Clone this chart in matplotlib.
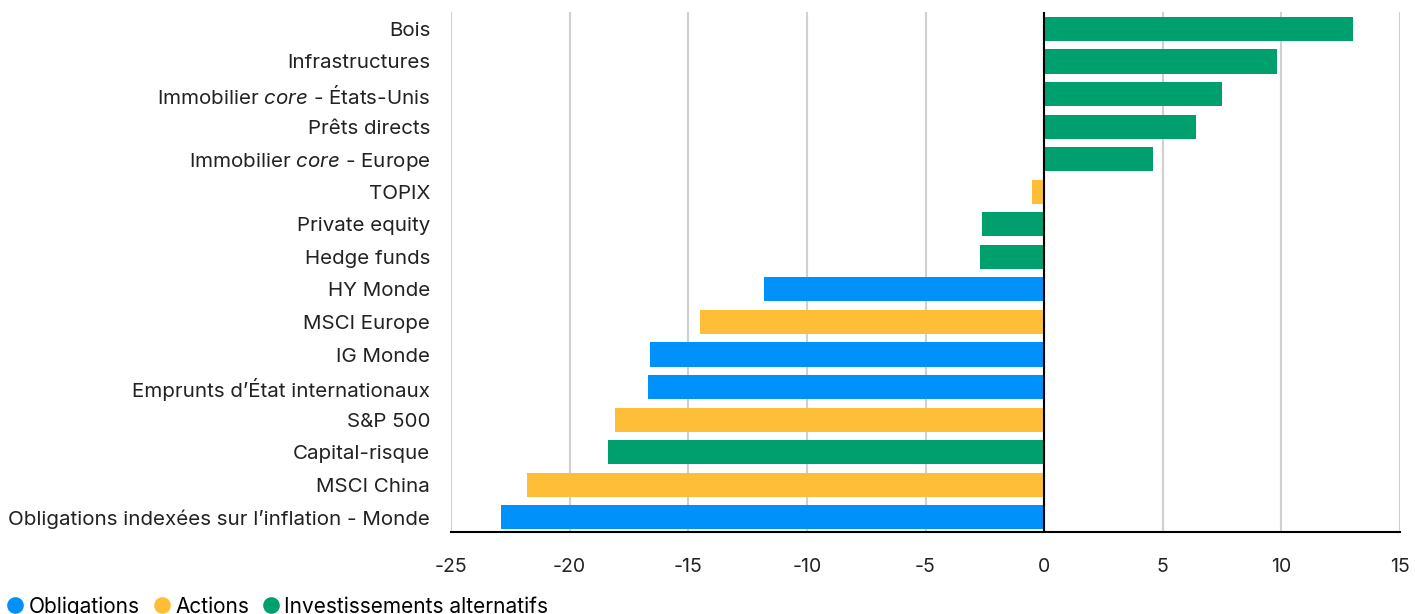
import matplotlib
matplotlib.use("Agg")
import matplotlib.pyplot as plt
from matplotlib.lines import Line2D

plt.rcParams['font.family'] = ['Inter', 'DejaVu Sans']
plt.rcParams['mathtext.fontset'] = 'custom'
plt.rcParams['mathtext.rm'] = 'Inter'
plt.rcParams['mathtext.it'] = 'Inter:italic'

categories = [
    "Bois",
    "Infrastructures",
    r"Immobilier $\it{core}$ - États-Unis",
    "Prêts directs",
    r"Immobilier $\it{core}$ - Europe",
    "TOPIX",
    "Private equity",
    "Hedge funds",
    "HY Monde",
    "MSCI Europe",
    "IG Monde",
    "Emprunts d’État internationaux",
    "S&P 500",
    "Capital-risque",
    "MSCI China",
    "Obligations indexées sur l’inflation - Monde",
]
values = [13.0, 9.8, 7.5, 6.4, 4.6, -0.5, -2.6, -2.7, -11.8, -14.5,
          -16.6, -16.7, -18.1, -18.4, -21.8, -22.9]
groups = ["alt", "alt", "alt", "alt", "alt", "eq", "alt", "alt", "bond", "eq",
          "bond", "bond", "eq", "alt", "eq", "bond"]

group_labels = {"bond": "Obligations", "eq": "Actions", "alt": "Investissements alternatifs"}
group_colors = {"bond": "#0091FA", "eq": "#FFBE38", "alt": "#00A06E"}
x_ticks = [-25, -20, -15, -10, -5, 0, 5, 10, 15]

fig = plt.figure(figsize=(14.15, 6.14), dpi=100)
ax = fig.add_axes([451 / 1415, 82 / 614, 949 / 1415, 520 / 614])

n = len(categories)
ypos = list(range(n - 1, -1, -1))
ax.barh(ypos, values, height=0.74, color=[group_colors[g] for g in groups], zorder=3)

ax.set_xlim(-25, 15)
ax.set_ylim(-0.45, n - 0.48)
ax.set_xticks(x_ticks)
ax.set_xticklabels([str(t) for t in x_ticks], fontsize=14, color="#222222")
ax.set_yticks(ypos)
ax.set_yticklabels(categories, fontsize=14.8, color="#222222")
ax.tick_params(axis="x", length=0, pad=19)
ax.tick_params(axis="y", length=0, pad=15)

ax.grid(axis="x", color="#D0D0D0", linewidth=1.5, zorder=0)
ax.axvline(0, color="black", linewidth=1.5, zorder=4)
for s in ["top", "right", "left"]:
    ax.spines[s].set_visible(False)
ax.spines["bottom"].set_color("black")
ax.spines["bottom"].set_linewidth(1.5)

handles = [Line2D([], [], marker="o", linestyle="none", markersize=12,
                  markerfacecolor=group_colors[k], markeredgecolor="none",
                  label=group_labels[k]) for k in ["bond", "eq", "alt"]]
fig.legend(handles=handles, loc="lower left", bbox_to_anchor=(-0.007, -0.028),
           ncol=3, frameon=False, fontsize=15, handletextpad=0.15,
           columnspacing=0.55, handlelength=1.0, borderpad=0.2)

fig.savefig("out.png", dpi=100, facecolor="white")
